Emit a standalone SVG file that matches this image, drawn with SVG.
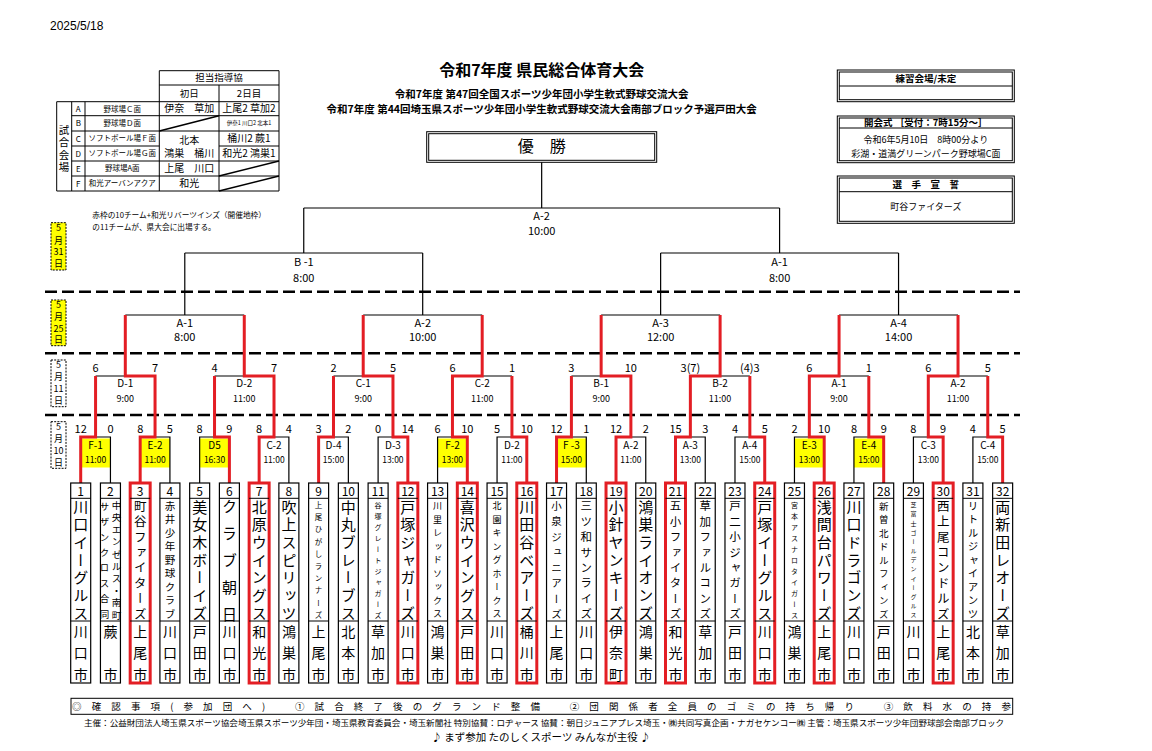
<svg xmlns="http://www.w3.org/2000/svg" width="1152" height="751" viewBox="0 0 1152 751">
<style>
text { font-family: "Noto Sans CJK JP", "Noto Sans", sans-serif; fill:#000; }
.c { text-anchor: middle; }
.v { writing-mode: vertical-rl; text-anchor: middle; }
.b { font-weight: bold; }
.ln { fill:none; stroke:#000; stroke-width:1.2; }
.tl { fill:none; stroke:#000; stroke-width:1; }
.dg { fill:none; stroke:#000; stroke-width:1.6; }
.rd { fill:none; stroke:#e31e24; stroke-width:3; }
.dl { fill:none; stroke:#000; stroke-width:2.6; stroke-dasharray:12 5; }
.db { fill:#fff; stroke:#000; stroke-width:1; stroke-dasharray:2 1.2; }
.dby { fill:#ffff00; stroke:#000; stroke-width:1; stroke-dasharray:2 1.2; }
.tb { fill:#fff; stroke:#000; stroke-width:1.2; }
.tbr { fill:#fff; stroke:#e31e24; stroke-width:3; }
.yl { fill:#ffff00; }
.sc { font-size:11px; text-anchor: middle; }
.m1 { font-size:10px; text-anchor: middle; }
.m1t { font-size:8.5px; text-anchor: middle; }
.m2 { font-size:10px; text-anchor: middle; }
.m2t { font-size:9px; text-anchor: middle; }
.m3 { font-size:11px; text-anchor: middle; }
.num { font-size:12px; text-anchor: middle; }
.city { font-size:14px; writing-mode: vertical-rl; text-anchor: middle; }
.frm { fill:#fff; stroke:#000; stroke-width:1; }
</style>
<rect width="1152" height="751" fill="#fff"/>

<text x="50" y="30" style="font-family:'Liberation Sans',Arial,sans-serif;font-size:12px">2025/5/18</text>

<!-- title -->
<g id="title">
<text class="c b" x="541.7" y="76" font-size="16">令和7年度 県民総合体育大会</text>
<text class="c b" x="541.7" y="98" font-size="10.5">令和7年度 第47回全国スポーツ少年団小学生軟式野球交流大会</text>
<text class="c b" x="541.7" y="112.8" font-size="10.5">令和7年度 第44回埼玉県スポーツ少年団小学生軟式野球交流大会南部ブロック予選戸田大会</text>
</g>

<g id="champion">
<rect class="frm" x="426.7" y="131.7" width="230" height="30.6"/>
<rect class="frm" x="428.7" y="133.7" width="226" height="26.6"/>
<text class="c" x="541.7" y="152" font-size="16">優　勝</text>
</g>

<!-- venue table -->
<g id="venue-table">
<path class="tl" d="M159.3 70.7H279M159.3 85H279M56.7 101.7H279M71.7 115.7H279M71.7 131H279M71.7 146H159.3M219 146H279M71.7 161H279M71.7 176H279M56.7 191H279M56.7 101.7V191M71.7 101.7V191M85 101.7V191M159.3 70.7V191M219 85V191M279 70.7V191"/>
<path class="dg" d="M159.3 131L219 115.7M219 176L279 161M219 191L279 176"/>
<text class="c" x="219" y="81.3" font-size="9.5">担当指導協</text>
<text class="c" x="189.2" y="96.8" font-size="9.5">初日</text>
<text class="c" x="249" y="96.8" font-size="9.5">2日目</text>
<text class="v" x="64" y="130 142.5 155 167.5" font-size="10.5" fill="#333">試合会場</text>
<text class="c" x="78.3" y="111.7" font-size="8">A</text>
<text class="c" x="78.3" y="126.3" font-size="8">B</text>
<text class="c" x="78.3" y="141.5" font-size="8">C</text>
<text class="c" x="78.3" y="156.5" font-size="8">D</text>
<text class="c" x="78.3" y="171.5" font-size="8">E</text>
<text class="c" x="78.3" y="186.5" font-size="8">F</text>
<text class="c" x="122.2" y="111.5" font-size="7.5">野球場Ｃ面</text>
<text class="c" x="122.2" y="126.1" font-size="7.5">野球場Ｄ面</text>
<text class="c" x="122.2" y="141.3" font-size="7.5">ソフトボール場Ｆ面</text>
<text class="c" x="122.2" y="156.3" font-size="7.5">ソフトボール場Ｇ面</text>
<text class="c" x="122.2" y="171.3" font-size="7.5">野球場A面</text>
<text class="c" x="122.2" y="186.3" font-size="7.5">和光アーバンアクア</text>
<text class="c" x="189.2" y="112.3" font-size="10">伊奈　草加</text>
<text class="c" x="189.2" y="143.7" font-size="10">北本</text>
<text class="c" x="189.2" y="157" font-size="10">鴻巣　桶川</text>
<text class="c" x="189.2" y="172.2" font-size="10">上尾　川口</text>
<text class="c" x="189.2" y="187.2" font-size="10">和光</text>
<text class="c" x="249" y="112.3" font-size="10">上尾2 草加2</text>
<text class="c" x="249" y="125.3" font-size="5.5">伊奈1 川口2 北本1</text>
<text class="c" x="249" y="142.2" font-size="10">桶川2 蕨1</text>
<text class="c" x="249" y="157.2" font-size="10">和光2 鴻巣1</text>
</g>

<g id="note">
<text x="92.3" y="218" font-size="7.7">赤枠の10チーム+和光リバーツインズ（開催地枠）</text>
<text x="92.3" y="229.7" font-size="7.7">の11チームが、県大会に出場する。</text>
</g>

<!-- right boxes -->
<g id="practice-box">
<rect class="frm" x="837.3" y="70" width="177" height="31.7"/>
<rect class="frm" x="839.3" y="72" width="173" height="27.7"/>
<path class="tl" d="M839.3 86H1012.3"/>
<text class="c b" x="925.8" y="81.7" font-size="9.5">練習会場/未定</text>
</g>
<g id="ceremony-box">
<rect class="frm" x="837.3" y="116" width="177" height="46.7"/>
<rect class="frm" x="839.3" y="118" width="173" height="42.7"/>
<path class="tl" d="M839.3 128H1012.3"/>
<text class="c b" x="925.8" y="126" font-size="9.5">開会式 ［受付：7時15分～］</text>
<text class="c" x="925.8" y="143.3" font-size="9">令和6年5月10日　8時00分より</text>
<text class="c" x="925.8" y="156.6" font-size="9">彩湖・道満グリーンパーク野球場C面</text>
</g>
<g id="oath-box">
<rect class="frm" x="837.3" y="176" width="177" height="47.3"/>
<rect class="frm" x="839.3" y="178" width="173" height="43.3"/>
<path class="tl" d="M839.3 191.7H1012.3"/>
<text class="c b" x="925.8" y="187.7" font-size="9.5">選　手　宣　誓</text>
<text class="c" x="925.8" y="210" font-size="9">町谷ファイターズ</text>
</g>

<!-- day separators and date tags -->
<g id="separators">
<path class="dl" d="M45 291.7H1020M45 353.3H1020M45 415H1020"/>
</g>
<g id="date-0531">
<rect class="dby" x="51" y="222.7" width="15" height="47.3"/>
<text class="c" x="58.5" y="230.5" font-size="9">5</text>
<text class="c" x="58.5" y="244" font-size="9">月</text>
<text class="c" x="58.5" y="255" font-size="9">31</text>
<text class="c" x="58.5" y="267.3" font-size="9">日</text>
</g>
<g id="date-0525">
<rect class="dby" x="51" y="300" width="15" height="45.7"/>
<text class="c" x="58.5" y="308.3" font-size="9">5</text>
<text class="c" x="58.5" y="320" font-size="9">月</text>
<text class="c" x="58.5" y="331.6" font-size="9">25</text>
<text class="c" x="58.5" y="343.3" font-size="9">日</text>
</g>
<g id="date-0511">
<rect class="db" x="51" y="360" width="15" height="46.7"/>
<text class="c" x="58.5" y="368.3" font-size="9">5</text>
<text class="c" x="58.5" y="380" font-size="9">月</text>
<text class="c" x="58.5" y="391.6" font-size="9">11</text>
<text class="c" x="58.5" y="404" font-size="9">日</text>
</g>
<g id="date-0510">
<rect class="db" x="51" y="421.7" width="15" height="46.6"/>
<text class="c" x="58.5" y="430" font-size="9">5</text>
<text class="c" x="58.5" y="441.6" font-size="9">月</text>
<text class="c" x="58.5" y="454" font-size="9">10</text>
<text class="c" x="58.5" y="465.6" font-size="9">日</text>
</g>

<!-- yellow match highlights -->
<g id="highlights">
<rect class="yl" x="80.70" y="438.5" width="29.74" height="29"/>
<rect class="yl" x="140.18" y="438.5" width="29.74" height="29"/>
<rect class="yl" x="199.66" y="438.5" width="29.74" height="29"/>
<rect class="yl" x="437.58" y="438.5" width="29.74" height="29"/>
<rect class="yl" x="556.54" y="438.5" width="29.74" height="29"/>
<rect class="yl" x="794.46" y="438.5" width="29.74" height="29"/>
<rect class="yl" x="853.94" y="438.5" width="29.74" height="29"/>
</g>

<!-- connectors -->
<g id="connectors">
<path class="ln" d="M80.70 483V437H110.44V483M95.57 437V376M140.18 483V437H169.92V483M155.05 437V376M199.66 483V437H229.40V483M214.53 437V376M259.14 483V437H288.88V483M274.01 437V376M318.62 483V437H348.36V483M333.49 437V376M378.10 483V437H407.84V483M392.97 437V376M437.58 483V437H467.32V483M452.45 437V376M497.06 483V437H526.80V483M511.93 437V376M556.54 483V437H586.28V483M571.41 437V376M616.02 483V437H645.76V483M630.89 437V376M675.50 483V437H705.24V483M690.37 437V376M734.98 483V437H764.72V483M749.85 437V376M794.46 483V437H824.20V483M809.33 437V376M853.94 483V437H883.68V483M868.81 437V376M913.42 483V437H943.16V483M928.29 437V376M972.90 483V437H1002.64V483M987.77 437V376"/>
<path class="ln" d="M95.57 376H155.05M125.31 376V315M214.53 376H274.01M244.27 376V315M333.49 376H392.97M363.21 376V315M452.45 376H511.93M482.19 376V315M571.41 376H630.89M601.15 376V315M690.37 376H749.85M720.11 376V315M809.33 376H868.81M839.07 376V315M928.29 376H987.77M958.03 376V315"/>
<path class="ln" d="M125.31 315H244.27M184.79 315V253M363.21 315H482.19M422.70 315V253M601.15 315H720.11M660.63 315V253M839.07 315H958.03M898.55 315V253"/>
<path class="ln" d="M184.79 253H422.70M303.75 253V208M660.63 253H898.55M779.59 253V208"/>
<path class="ln" d="M303.75 208H779.59M541.67 208V162.3"/>
<path class="rd" d="M80.70 483V437H95.57V376"/>
<path class="rd" d="M140.18 483V437H155.05V376H125.31V315"/>
<path class="rd" d="M229.40 483V437H214.53V376"/>
<path class="rd" d="M259.14 483V437H274.01V376H244.27V315"/>
<path class="rd" d="M318.62 483V437H333.49V376"/>
<path class="rd" d="M407.84 483V437H392.97V376H363.21V315"/>
<path class="rd" d="M467.32 483V437H452.45V376H482.19V315"/>
<path class="rd" d="M526.80 483V437H511.93V376"/>
<path class="rd" d="M556.54 483V437H571.41V376"/>
<path class="rd" d="M616.02 483V437H630.89V376H601.15V315"/>
<path class="rd" d="M675.50 483V437H690.37V376H720.11V315"/>
<path class="rd" d="M764.72 483V437H749.85V376"/>
<path class="rd" d="M824.20 483V437H809.33V376H839.07V315"/>
<path class="rd" d="M883.68 483V437H868.81V376"/>
<path class="rd" d="M943.16 483V437H928.29V376H958.03V315"/>
<path class="rd" d="M1002.64 483V437H987.77V376"/>
</g>

<!-- match labels -->
<g id="matches-final">
<text class="m3" x="541.67" y="219.8">A-2</text><text class="m3" x="541.67" y="235">10:00</text>
</g>
<g id="matches-0531">
<text class="m3" x="303.75" y="266.4">B -1</text><text class="m3" x="303.75" y="281.8">8:00</text>
<text class="m3" x="779.59" y="266.4">A-1</text><text class="m3" x="779.59" y="281.8">8:00</text>
</g>
<g id="matches-0525">
<text class="m3" x="184.79" y="327.4">A-1</text><text class="m3" x="184.79" y="341.4">8:00</text>
<text class="m3" x="422.70" y="327.4">A-2</text><text class="m3" x="422.70" y="341.4">10:00</text>
<text class="m3" x="660.63" y="327.4">A-3</text><text class="m3" x="660.63" y="341.4">12:00</text>
<text class="m3" x="898.55" y="327.4">A-4</text><text class="m3" x="898.55" y="341.4">14:00</text>
</g>
<g id="matches-0511">
<text class="m2" x="125.31" y="387">D-1</text><text class="m2t" x="125.31" y="401.6">9:00</text>
<text class="m2" x="244.27" y="387">D-2</text><text class="m2t" x="244.27" y="401.6">11:00</text>
<text class="m2" x="363.21" y="387">C-1</text><text class="m2t" x="363.21" y="401.6">9:00</text>
<text class="m2" x="482.19" y="387">C-2</text><text class="m2t" x="482.19" y="401.6">11:00</text>
<text class="m2" x="601.15" y="387">B-1</text><text class="m2t" x="601.15" y="401.6">9:00</text>
<text class="m2" x="720.11" y="387">B-2</text><text class="m2t" x="720.11" y="401.6">11:00</text>
<text class="m2" x="839.07" y="387">A-1</text><text class="m2t" x="839.07" y="401.6">9:00</text>
<text class="m2" x="958.03" y="387">A-2</text><text class="m2t" x="958.03" y="401.6">11:00</text>
<text class="sc" x="95.57" y="372">6</text><text class="sc" x="155.05" y="372">7</text>
<text class="sc" x="214.53" y="372">4</text><text class="sc" x="274.01" y="372">7</text>
<text class="sc" x="333.49" y="372">2</text><text class="sc" x="392.97" y="372">5</text>
<text class="sc" x="452.45" y="372">6</text><text class="sc" x="511.93" y="372">1</text>
<text class="sc" x="571.41" y="372">3</text><text class="sc" x="630.89" y="372">10</text>
<text class="sc" x="690.37" y="372">3(7)</text><text class="sc" x="749.85" y="372">(4)3</text>
<text class="sc" x="809.33" y="372">6</text><text class="sc" x="868.81" y="372">1</text>
<text class="sc" x="928.29" y="372">6</text><text class="sc" x="987.77" y="372">5</text>
</g>
<g id="matches-0510">
<text class="m1" x="95.57" y="448.7">F-1</text><text class="m1t" x="95.57" y="463">11:00</text>
<text class="m1" x="155.05" y="448.7">E-2</text><text class="m1t" x="155.05" y="463">11:00</text>
<text class="m1" x="214.53" y="448.7">D5</text><text class="m1t" x="214.53" y="463">16:30</text>
<text class="m1" x="274.01" y="448.7">C-2</text><text class="m1t" x="274.01" y="463">11:00</text>
<text class="m1" x="333.49" y="448.7">D-4</text><text class="m1t" x="333.49" y="463">15:00</text>
<text class="m1" x="392.97" y="448.7">D-3</text><text class="m1t" x="392.97" y="463">13:00</text>
<text class="m1" x="452.45" y="448.7">F-2</text><text class="m1t" x="452.45" y="463">13:00</text>
<text class="m1" x="511.93" y="448.7">D-2</text><text class="m1t" x="511.93" y="463">11:00</text>
<text class="m1" x="571.41" y="448.7">F -3</text><text class="m1t" x="571.41" y="463">15:00</text>
<text class="m1" x="630.89" y="448.7">A-2</text><text class="m1t" x="630.89" y="463">11:00</text>
<text class="m1" x="690.37" y="448.7">A-3</text><text class="m1t" x="690.37" y="463">13:00</text>
<text class="m1" x="749.85" y="448.7">A-4</text><text class="m1t" x="749.85" y="463">15:00</text>
<text class="m1" x="809.33" y="448.7">E-3</text><text class="m1t" x="809.33" y="463">13:00</text>
<text class="m1" x="868.81" y="448.7">E-4</text><text class="m1t" x="868.81" y="463">15:00</text>
<text class="m1" x="928.29" y="448.7">C-3</text><text class="m1t" x="928.29" y="463">13:00</text>
<text class="m1" x="987.77" y="448.7">C-4</text><text class="m1t" x="987.77" y="463">15:00</text>
<text class="sc" x="80.70" y="433">12</text><text class="sc" x="110.44" y="433">0</text>
<text class="sc" x="140.18" y="433">8</text><text class="sc" x="169.92" y="433">5</text>
<text class="sc" x="199.66" y="433">8</text><text class="sc" x="229.40" y="433">9</text>
<text class="sc" x="259.14" y="433">8</text><text class="sc" x="288.88" y="433">4</text>
<text class="sc" x="318.62" y="433">3</text><text class="sc" x="348.36" y="433">2</text>
<text class="sc" x="378.10" y="433">0</text><text class="sc" x="407.84" y="433">14</text>
<text class="sc" x="437.58" y="433">6</text><text class="sc" x="467.32" y="433">10</text>
<text class="sc" x="497.06" y="433">5</text><text class="sc" x="526.80" y="433">10</text>
<text class="sc" x="556.54" y="433">12</text><text class="sc" x="586.28" y="433">1</text>
<text class="sc" x="616.02" y="433">12</text><text class="sc" x="645.76" y="433">2</text>
<text class="sc" x="675.50" y="433">15</text><text class="sc" x="705.24" y="433">3</text>
<text class="sc" x="734.98" y="433">4</text><text class="sc" x="764.72" y="433">5</text>
<text class="sc" x="794.46" y="433">2</text><text class="sc" x="824.20" y="433">10</text>
<text class="sc" x="853.94" y="433">8</text><text class="sc" x="883.68" y="433">9</text>
<text class="sc" x="913.42" y="433">8</text><text class="sc" x="943.16" y="433">9</text>
<text class="sc" x="972.90" y="433">4</text><text class="sc" x="1002.64" y="433">5</text>
</g>

<!-- teams -->
<g id="team-1" transform="translate(70.70 0)"><rect class="tb" x="0" y="483" width="20" height="200"/><path class="tl" d="M0 498.3H20M0 621H20"/><text class="num" x="10" y="496">1</text><text class="v" x="10" y="507 524.7 542.3 560 577.7 595.3 613" font-size="15">川口イーグルス</text><text class="city" x="10" y="632 653 675">川口市</text></g>
<g id="team-2" transform="translate(100.44 0)"><rect class="tb" x="0" y="483" width="20" height="200"/><path class="tl" d="M0 498.3H20M0 621H20"/><text class="num" x="10" y="496">2</text><text class="v" x="16" y="505 517.2 529.4 541.7 553.9 566.1 578.3 590.6 602.8 615" font-size="9.5">中央エンゼルス・南町</text><text class="v" x="4" y="506 521.4 536.9 552.3 567.7 583.1 598.6 614" font-size="9.5">サザンクロス合同</text><text class="city" x="10" y="632 675">蕨市</text></g>
<g id="team-3" transform="translate(130.18 0)"><rect class="tbr" x="0" y="483" width="20" height="200"/><path class="tl" d="M0 498.3H20M0 621H20"/><text class="num" x="10" y="496">3</text><text class="v" x="10" y="506 521.4 536.9 552.3 567.7 583.1 598.6 614" font-size="12.5">町谷ファイターズ</text><text class="city" x="10" y="632 653 675">上尾市</text></g>
<g id="team-4" transform="translate(159.92 0)"><rect class="tb" x="0" y="483" width="20" height="200"/><path class="tl" d="M0 498.3H20M0 621H20"/><text class="num" x="10" y="496">4</text><text class="v" x="10" y="506 519.5 533 546.5 560 573.5 587 600.5 614" font-size="10.5">赤井少年野球クラブ</text><text class="city" x="10" y="632 653 675">川口市</text></g>
<g id="team-5" transform="translate(189.66 0)"><rect class="tb" x="0" y="483" width="20" height="200"/><path class="tl" d="M0 498.3H20M0 621H20"/><text class="num" x="10" y="496">5</text><text class="v" x="10" y="507 524.7 542.3 560 577.7 595.3 613" font-size="15">美女木ボーイズ</text><text class="city" x="10" y="632 653 675">戸田市</text></g>
<g id="team-6" transform="translate(219.40 0)"><rect class="tb" x="0" y="483" width="20" height="200"/><path class="tl" d="M0 498.3H20M0 621H20"/><text class="num" x="10" y="496">6</text><text class="v" x="10" y="506 533 560 587 614" font-size="15">クラブ朝日</text><text class="city" x="10" y="632 653 675">川口市</text></g>
<g id="team-7" transform="translate(249.14 0)"><rect class="tbr" x="0" y="483" width="20" height="200"/><path class="tl" d="M0 498.3H20M0 621H20"/><text class="num" x="10" y="496">7</text><text class="v" x="10" y="507 524.7 542.3 560 577.7 595.3 613" font-size="15">北原ウイングス</text><text class="city" x="10" y="632 653 675">和光市</text></g>
<g id="team-8" transform="translate(278.88 0)"><rect class="tb" x="0" y="483" width="20" height="200"/><path class="tl" d="M0 498.3H20M0 621H20"/><text class="num" x="10" y="496">8</text><text class="v" x="10" y="507 524.7 542.3 560 577.7 595.3 613" font-size="15">吹上スピリッツ</text><text class="city" x="10" y="632 653 675">鴻巣市</text></g>
<g id="team-9" transform="translate(308.62 0)"><rect class="tb" x="0" y="483" width="20" height="200"/><path class="tl" d="M0 498.3H20M0 621H20"/><text class="num" x="10" y="496">9</text><text class="v" x="10" y="505 517.2 529.4 541.7 553.9 566.1 578.3 590.6 602.8 615" font-size="7.5">上尾ひがしランナーズ</text><text class="city" x="10" y="632 653 675">上尾市</text></g>
<g id="team-10" transform="translate(338.36 0)"><rect class="tb" x="0" y="483" width="20" height="200"/><path class="tl" d="M0 498.3H20M0 621H20"/><text class="num" x="10" y="496">10</text><text class="v" x="10" y="507 524.7 542.3 560 577.7 595.3 613" font-size="15">中丸ブレーブス</text><text class="city" x="10" y="632 653 675">北本市</text></g>
<g id="team-11" transform="translate(368.10 0)"><rect class="tb" x="0" y="483" width="20" height="200"/><path class="tl" d="M0 498.3H20M0 621H20"/><text class="num" x="10" y="496">11</text><text class="v" x="10" y="505 516 527 538 549 560 571 582 593 604 615" font-size="7">谷塚グレートジャガーズ</text><text class="city" x="10" y="632 653 675">草加市</text></g>
<g id="team-12" transform="translate(397.84 0)"><rect class="tbr" x="0" y="483" width="20" height="200"/><path class="tl" d="M0 498.3H20M0 621H20"/><text class="num" x="10" y="496">12</text><text class="v" x="10" y="507 524.7 542.3 560 577.7 595.3 613" font-size="15">戸塚ジャガーズ</text><text class="city" x="10" y="632 653 675">川口市</text></g>
<g id="team-13" transform="translate(427.58 0)"><rect class="tb" x="0" y="483" width="20" height="200"/><path class="tl" d="M0 498.3H20M0 621H20"/><text class="num" x="10" y="496">13</text><text class="v" x="10" y="506 519.5 533 546.5 560 573.5 587 600.5 614" font-size="9">川里レッドソックス</text><text class="city" x="10" y="632 653 675">鴻巣市</text></g>
<g id="team-14" transform="translate(457.32 0)"><rect class="tbr" x="0" y="483" width="20" height="200"/><path class="tl" d="M0 498.3H20M0 621H20"/><text class="num" x="10" y="496">14</text><text class="v" x="10" y="507 524.7 542.3 560 577.7 595.3 613" font-size="15">喜沢ウイングス</text><text class="city" x="10" y="632 653 675">戸田市</text></g>
<g id="team-15" transform="translate(487.06 0)"><rect class="tb" x="0" y="483" width="20" height="200"/><path class="tl" d="M0 498.3H20M0 621H20"/><text class="num" x="10" y="496">15</text><text class="v" x="10" y="506 519.5 533 546.5 560 573.5 587 600.5 614" font-size="9">北園キングホークス</text><text class="city" x="10" y="632 653 675">川口市</text></g>
<g id="team-16" transform="translate(516.80 0)"><rect class="tbr" x="0" y="483" width="20" height="200"/><path class="tl" d="M0 498.3H20M0 621H20"/><text class="num" x="10" y="496">16</text><text class="v" x="10" y="507 524.7 542.3 560 577.7 595.3 613" font-size="15">川田谷ベアーズ</text><text class="city" x="10" y="632 653 675">桶川市</text></g>
<g id="team-17" transform="translate(546.54 0)"><rect class="tb" x="0" y="483" width="20" height="200"/><path class="tl" d="M0 498.3H20M0 621H20"/><text class="num" x="10" y="496">17</text><text class="v" x="10" y="506 521.4 536.9 552.3 567.7 583.1 598.6 614" font-size="10.5">小泉ジュニアーズ</text><text class="city" x="10" y="632 653 675">上尾市</text></g>
<g id="team-18" transform="translate(576.28 0)"><rect class="tb" x="0" y="483" width="20" height="200"/><path class="tl" d="M0 498.3H20M0 621H20"/><text class="num" x="10" y="496">18</text><text class="v" x="10" y="506 521.4 536.9 552.3 567.7 583.1 598.6 614" font-size="11.5">三ツ和サンライズ</text><text class="city" x="10" y="632 653 675">川口市</text></g>
<g id="team-19" transform="translate(606.02 0)"><rect class="tbr" x="0" y="483" width="20" height="200"/><path class="tl" d="M0 498.3H20M0 621H20"/><text class="num" x="10" y="496">19</text><text class="v" x="10" y="507 524.7 542.3 560 577.7 595.3 613" font-size="15">小針ヤンキーズ</text><text class="city" x="10" y="632 653 675">伊奈町</text></g>
<g id="team-20" transform="translate(635.76 0)"><rect class="tb" x="0" y="483" width="20" height="200"/><path class="tl" d="M0 498.3H20M0 621H20"/><text class="num" x="10" y="496">20</text><text class="v" x="10" y="507 524.7 542.3 560 577.7 595.3 613" font-size="15">鴻巣ライオンズ</text><text class="city" x="10" y="632 653 675">鴻巣市</text></g>
<g id="team-21" transform="translate(665.50 0)"><rect class="tbr" x="0" y="483" width="20" height="200"/><path class="tl" d="M0 498.3H20M0 621H20"/><text class="num" x="10" y="496">21</text><text class="v" x="10" y="506 521.4 536.9 552.3 567.7 583.1 598.6 614" font-size="11.5">五小ファイターズ</text><text class="city" x="10" y="632 653 675">和光市</text></g>
<g id="team-22" transform="translate(695.24 0)"><rect class="tb" x="0" y="483" width="20" height="200"/><path class="tl" d="M0 498.3H20M0 621H20"/><text class="num" x="10" y="496">22</text><text class="v" x="10" y="506 521.4 536.9 552.3 567.7 583.1 598.6 614" font-size="11.5">草加ファルコンズ</text><text class="city" x="10" y="632 653 675">草加市</text></g>
<g id="team-23" transform="translate(724.98 0)"><rect class="tb" x="0" y="483" width="20" height="200"/><path class="tl" d="M0 498.3H20M0 621H20"/><text class="num" x="10" y="496">23</text><text class="v" x="10" y="506 521.4 536.9 552.3 567.7 583.1 598.6 614" font-size="11.5">戸二小ジャガーズ</text><text class="city" x="10" y="632 653 675">戸田市</text></g>
<g id="team-24" transform="translate(754.72 0)"><rect class="tbr" x="0" y="483" width="20" height="200"/><path class="tl" d="M0 498.3H20M0 621H20"/><text class="num" x="10" y="496">24</text><text class="v" x="10" y="507 524.7 542.3 560 577.7 595.3 613" font-size="15">戸塚イーグルス</text><text class="city" x="10" y="632 653 675">川口市</text></g>
<g id="team-25" transform="translate(784.46 0)"><rect class="tb" x="0" y="483" width="20" height="200"/><path class="tl" d="M0 498.3H20M0 621H20"/><text class="num" x="10" y="496">25</text><text class="v" x="10" y="505 516 527 538 549 560 571 582 593 604 615" font-size="7">宮本アスナロタイガース</text><text class="city" x="10" y="632 653 675">鴻巣市</text></g>
<g id="team-26" transform="translate(814.20 0)"><rect class="tbr" x="0" y="483" width="20" height="200"/><path class="tl" d="M0 498.3H20M0 621H20"/><text class="num" x="10" y="496">26</text><text class="v" x="10" y="507 524.7 542.3 560 577.7 595.3 613" font-size="15">浅間台パワーズ</text><text class="city" x="10" y="632 653 675">上尾市</text></g>
<g id="team-27" transform="translate(843.94 0)"><rect class="tb" x="0" y="483" width="20" height="200"/><path class="tl" d="M0 498.3H20M0 621H20"/><text class="num" x="10" y="496">27</text><text class="v" x="10" y="507 524.7 542.3 560 577.7 595.3 613" font-size="15">川口ドラゴンズ</text><text class="city" x="10" y="632 653 675">川口市</text></g>
<g id="team-28" transform="translate(873.68 0)"><rect class="tb" x="0" y="483" width="20" height="200"/><path class="tl" d="M0 498.3H20M0 621H20"/><text class="num" x="10" y="496">28</text><text class="v" x="10" y="506 519.5 533 546.5 560 573.5 587 600.5 614" font-size="9.5">新曽北ドルフィンズ</text><text class="city" x="10" y="632 653 675">戸田市</text></g>
<g id="team-29" transform="translate(903.42 0)"><rect class="tb" x="0" y="483" width="20" height="200"/><path class="tl" d="M0 498.3H20M0 621H20"/><text class="num" x="10" y="496">29</text><text class="v" x="10" y="505 514.2 523.3 532.5 541.7 550.8 560 569.2 578.3 587.5 596.7 605.8 615" font-size="6">芝富士ゴールデンイーグルス</text><text class="city" x="10" y="632 653 675">川口市</text></g>
<g id="team-30" transform="translate(933.16 0)"><rect class="tbr" x="0" y="483" width="20" height="200"/><path class="tl" d="M0 498.3H20M0 621H20"/><text class="num" x="10" y="496">30</text><text class="v" x="10" y="506 521.4 536.9 552.3 567.7 583.1 598.6 614" font-size="12.5">西上尾コンドルズ</text><text class="city" x="10" y="632 653 675">上尾市</text></g>
<g id="team-31" transform="translate(962.90 0)"><rect class="tb" x="0" y="483" width="20" height="200"/><path class="tl" d="M0 498.3H20M0 621H20"/><text class="num" x="10" y="496">31</text><text class="v" x="10" y="506 519.5 533 546.5 560 573.5 587 600.5 614" font-size="10.5">リトルジャイアンツ</text><text class="city" x="10" y="632 653 675">北本市</text></g>
<g id="team-32" transform="translate(992.64 0)"><rect class="tb" x="0" y="483" width="20" height="200"/><path class="tl" d="M0 498.3H20M0 621H20"/><text class="num" x="10" y="496">32</text><text class="v" x="10" y="507 524.7 542.3 560 577.7 595.3 613" font-size="15">両新田レオーズ</text><text class="city" x="10" y="632 653 675">草加市</text></g>

<!-- footer -->
<g id="footer">
<rect class="frm" x="71" y="698.3" width="941.7" height="16"/>
<text x="72" y="709.5" font-size="9.5" textLength="939" lengthAdjust="spacing">◎確認事項(参加団へ)　①試合終了後のグランド整備　②団関係者全員のゴミの持ち帰り　③飲料水の持参</text>
<text x="84" y="725.5" font-size="8.3" textLength="920" lengthAdjust="spacingAndGlyphs">主催：公益財団法人埼玉県スポーツ協会埼玉県スポーツ少年団・埼玉県教育委員会・埼玉新聞社 特別協賛：ロヂャース 協賛：朝日ジュニアプレス埼玉・㈱共同写真企画・ナガセケンコー㈱ 主管：埼玉県スポーツ少年団野球部会南部ブロック</text>
<text class="c" x="541" y="740.5" font-size="10.5">♪ まず参加 たのしくスポーツ みんなが主役 ♪</text>
</g>
</svg>
